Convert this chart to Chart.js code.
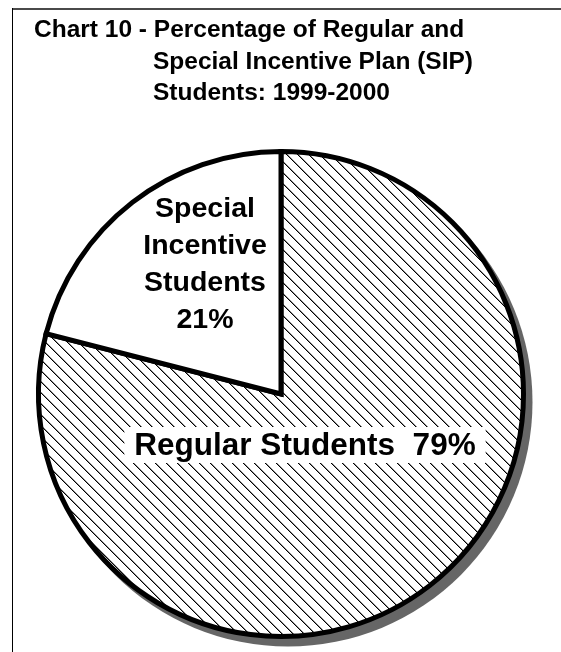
<!DOCTYPE html>
<html><head><meta charset="utf-8">
<script src="https://cdn.jsdelivr.net/npm/chart.js@4.4.0/dist/chart.umd.min.js"></script>
<style>html,body{margin:0;padding:0;background:#fff}#wrap{width:561px;height:652px;position:relative}</style>
</head><body><div id="wrap"><canvas id="c"></canvas></div>
<script>
const categories = ['Regular Students', 'Special Incentive Students'];
const percentages = [79, 21];
const titleLines = ['Chart 10 - Percentage of Regular and', 'Special Incentive Plan (SIP)', 'Students: 1999-2000'];
const specialLabelLines = ['Special', 'Incentive', 'Students', percentages[1] + '%'];
const regularLabel = categories[0] + '  ' + percentages[0] + '%';

const FONT = '"Liberation Sans", Arial, Helvetica, sans-serif';
const canvas = document.getElementById('c');
const mainCtx = canvas.getContext('2d');

function makeHatch() {
  const n = 11;
  const t = document.createElement('canvas');
  t.width = n; t.height = n;
  const g = t.getContext('2d');
  g.fillStyle = '#fff'; g.fillRect(0, 0, n, n);
  for (let i = 0; i < n; i++) {
    g.fillStyle = '#000';
    g.fillRect(i, i, 1, 1);
    g.fillStyle = 'rgba(0,0,0,0.45)';
    g.fillRect((i + 1) % n, i, 1, 1);
  }
  return mainCtx.createPattern(t, 'repeat');
}
const hatch = makeHatch();

const framePlugin = {
  id: 'frame',
  beforeDraw(chart) {
    const ctx = chart.ctx;
    ctx.save();
    ctx.fillStyle = '#fff';
    ctx.fillRect(0, 0, chart.width, chart.height);
    ctx.fillStyle = '#4a4a4a';
    ctx.fillRect(12, 8, chart.width - 12, 2);
    ctx.fillStyle = '#000';
    ctx.fillRect(12, 8, 1, chart.height - 8);
    ctx.restore();
  },
  beforeDatasetsDraw(chart) {
    const arc = chart.getDatasetMeta(0).data[0];
    const p = arc.getProps(['x', 'y', 'outerRadius'], true);
    const ctx = chart.ctx;
    ctx.save();
    ctx.fillStyle = '#666666';
    ctx.beginPath();
    ctx.arc(p.x + 7, p.y + 8, p.outerRadius + 2, 0, Math.PI * 2);
    ctx.fill();
    ctx.restore();
  },
  afterDatasetsDraw(chart) {
    const ctx = chart.ctx;
    ctx.save();
    ctx.fillStyle = '#000';
    ctx.textBaseline = 'alphabetic';
    ctx.font = 'bold 24.5px ' + FONT;
    ctx.textAlign = 'left';
    ctx.fillText(titleLines[0], 34, 37);
    ctx.fillText(titleLines[1], 153, 69);
    ctx.fillText(titleLines[2], 153, 100);
    ctx.font = 'bold 28.5px ' + FONT;
    ctx.textAlign = 'center';
    const base = [217, 254, 291, 328];
    specialLabelLines.forEach((s, i) => ctx.fillText(s, 205, base[i]));
    ctx.font = 'bold 31.5px ' + FONT;
    const w = ctx.measureText(regularLabel).width;
    ctx.fillStyle = '#fff';
    ctx.fillRect(305 - w / 2 - 10, 427, w + 20, 36);
    ctx.fillStyle = '#000';
    ctx.fillText(regularLabel, 305, 455);
    ctx.restore();
  }
};

new Chart(canvas, {
  type: 'pie',
  data: {
    labels: categories,
    datasets: [{
      data: percentages,
      backgroundColor: [hatch, '#ffffff'],
      borderColor: '#000',
      borderWidth: 5,
      borderJoinStyle: 'miter'
    }]
  },
  options: {
    responsive: true,
    maintainAspectRatio: false,
    animation: false,
    layout: { padding: { top: 149, left: 36, right: 35, bottom: 13 } },
    plugins: { legend: { display: false }, title: { display: false }, tooltip: { enabled: false } }
  },
  plugins: [framePlugin]
});
</script>
</body></html>
